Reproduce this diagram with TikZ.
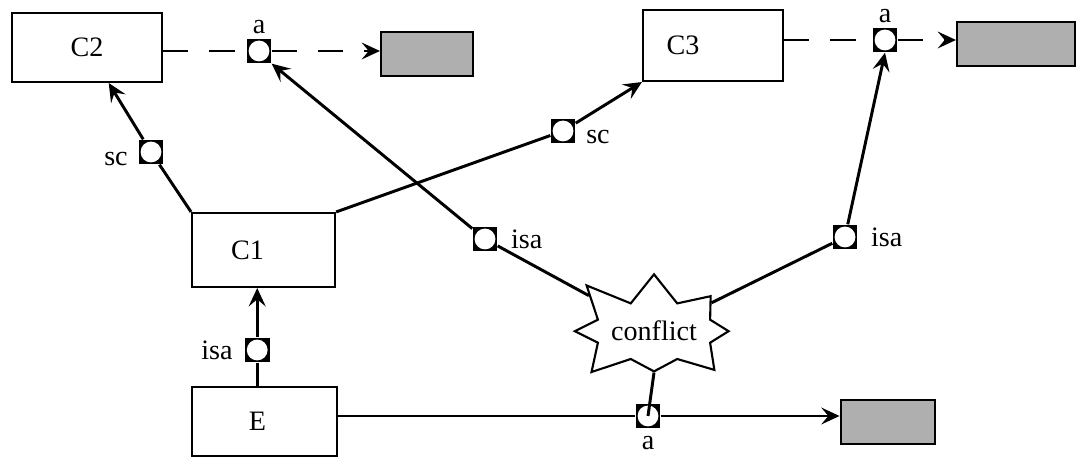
\documentclass[tikz,border=0pt]{standalone}
\usepackage{fontspec}
\setmainfont{Liberation Serif}
\usepackage{tikz}
\usetikzlibrary{positioning,calc,shapes.symbols,arrows.meta}
\definecolor{ShadeGrey}{RGB}{175,175,175}

\tikzset{
  concept/.style={draw,line width=1.5pt,inner sep=0pt},
  valbox/.style={draw,line width=1.5pt,fill=ShadeGrey,minimum width=2.35cm,minimum height=1.1cm},
  port/.style={rectangle,fill=black,minimum size=0.62cm,inner sep=0pt,
    path picture={\fill[white] (path picture bounding box.center) circle (0.26cm);}},
  link/.style={line width=2.1pt},
  attr/.style={line width=1.3pt,dash pattern=on 18pt off 15pt},
  tip/.style={-{Stealth[length=13pt,width=12pt,inset=5pt]}}
}

\begin{document}
\begin{tikzpicture}[font=\fontsize{20}{24}\selectfont]
    \useasboundingbox (0,0) rectangle (27,11.5);
    % concepts
    \node[concept,minimum width=3.75cm,minimum height=1.72cm] (C2) at (2.175,10.31) {C2};
    \node[concept,minimum width=3.5cm,minimum height=1.77cm] (C3) at (17.825,10.36) {C3\hspace{1.5cm}\mbox{}};
    \node[concept,minimum width=3.575cm,minimum height=1.85cm] (C1) at (6.59,5.25) {C1\hspace{0.8cm}\mbox{}};
    \node[concept,minimum width=3.625cm,minimum height=1.72cm] (E) at (6.61,0.96) {E\hspace{0.35cm}\mbox{}};
    % value boxes
    \node[valbox,minimum width=2.3cm] (val2) at (10.675,10.16) {};
    \node[valbox,minimum width=2.95cm] (val3) at (25.4,10.39) {};
    \node[valbox] (valE) at (22.19,0.94) {};
    % conflict
    \node[draw,fill=white,line width=1.5pt,starburst,starburst points=8,
          starburst point height=0.9cm,random starburst=11,
          inner xsep=0pt,inner ysep=8pt] (conflict) at (16.35,3.22) {conflict};
    % ports
    \node[port,label={above:a}] (pA2) at (6.475,10.225) {};
    \node[port,label={above:a}] (pA3) at (22.125,10.5) {};
    \node[port,label={[yshift=-5pt,label distance=4pt]left:sc}] (pSc2) at (3.775,7.7) {};
    \node[port,label={[yshift=-4pt,label distance=4pt]right:sc}] (pSc3) at (14.075,8.225) {};
    \node[port,label={[label distance=6pt]right:isa}] (pIsaM) at (12.125,5.525) {};
    \node[port,label={[label distance=6pt]right:isa}] (pIsaR) at (21.125,5.575) {};
    \node[port,label={[label distance=5pt]left:isa}] (pIsaE) at (6.43,2.75) {};
    \node[port,label={[label distance=2pt]below:a}] (pAE) at (16.2,1.1) {};
    % links
    \draw[link] (C1.north west) -- (pSc2);
    \draw[link,tip] (pSc2) -- (C2);
    \draw[link] (C1.north east) -- (pSc3);
    \draw[link,tip] (pSc3) -- (C3.south west);
    \draw[link] (pIsaE |- E.north) -- (pIsaE);
    \draw[link,tip] (pIsaE) -- (pIsaE |- C1.south);
    \draw[link] (conflict) -- (pIsaM);
    \draw[link,tip] (pIsaM) -- (pA2.south east);
    \draw[link] (conflict) -- (pIsaR);
    \draw[link,tip] (pIsaR) -- (pA3.south);
    \draw[link] (conflict.south) -- (pAE.center);
    \draw[line width=1.3pt] (E.east |- pAE) -- (pAE);
    \draw[line width=1.3pt,tip] (pAE) -- (valE.west |- pAE);
    \draw[attr] (C2.east |- pA2) -- (pA2);
    \draw[attr,tip] (pA2) -- (val2.west |- pA2);
    \draw[attr] (C3.east |- pA3) -- (pA3);
    \draw[attr,tip] (pA3) -- (val3.west |- pA3);
  \end{tikzpicture}
\end{document}
